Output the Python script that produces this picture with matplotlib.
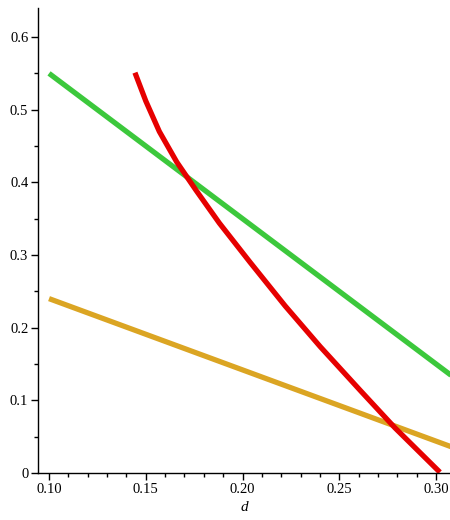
import matplotlib
matplotlib.use('Agg')
import matplotlib.pyplot as plt
from matplotlib.ticker import MultipleLocator, FixedLocator

# --- data ---
green_d = [0.10, 0.31]
green_y = [0.55, 0.13]

gold_d = [0.10, 0.31]
gold_y = [0.24, 0.034]

red_d = [0.1444, 0.1500, 0.1570, 0.1660, 0.1760, 0.1880, 0.2039,
         0.2220, 0.2401, 0.2607, 0.2788, 0.3020]
red_y = [0.551, 0.512, 0.470, 0.428, 0.389, 0.344, 0.290,
         0.230, 0.174, 0.114, 0.062, 0.001]

x_ticks = [0.10, 0.15, 0.20, 0.25, 0.30]
x_labels = ['0.10', '0.15', '0.20', '0.25', '0.30']
y_ticks = [0, 0.1, 0.2, 0.3, 0.4, 0.5, 0.6]
y_labels = ['0', '0.1', '0.2', '0.3', '0.4', '0.5', '0.6']

plt.rcParams['font.family'] = ['Liberation Serif', 'DejaVu Serif']

fig = plt.figure(figsize=(4.5, 5.2), dpi=100)
ax = fig.add_axes([38 / 450, 1 - 473 / 520, 1 - 38 / 450, (473 - 8) / 520])

ax.plot(green_d, green_y, color='#3cc83c', lw=3.8, solid_capstyle='butt')
ax.plot(gold_d, gold_y, color='#dba523', lw=3.8, solid_capstyle='butt')
ax.plot(red_d, red_y, color='#e60000', lw=3.8, solid_capstyle='butt')

ax.set_xlim(0.0943, 0.3072)
ax.set_ylim(0, 0.64)

for s in ['top', 'right']:
    ax.spines[s].set_visible(False)
for s in ['left', 'bottom']:
    ax.spines[s].set_linewidth(1.0)

ax.xaxis.set_major_locator(FixedLocator(x_ticks))
ax.set_xticklabels(x_labels)
ax.xaxis.set_minor_locator(MultipleLocator(0.01))
ax.yaxis.set_major_locator(FixedLocator(y_ticks))
ax.set_yticklabels(y_labels)
ax.yaxis.set_minor_locator(MultipleLocator(0.05))

ax.tick_params(which='major', direction='out', length=5, width=1, labelsize=10.5, pad=2)
ax.tick_params(which='minor', direction='out', length=3, width=1)

ax.set_xlabel('d', style='italic', fontsize=11, labelpad=4)

fig.savefig('out.png', dpi=100)
